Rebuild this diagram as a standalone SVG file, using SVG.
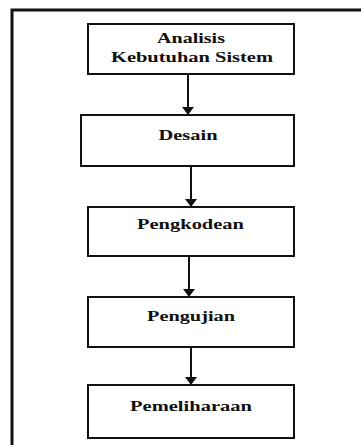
<svg xmlns="http://www.w3.org/2000/svg" width="361" height="445" viewBox="0 0 361 445">
<style>
.box{fill:#fff;stroke:#111;stroke-width:2}
.lbl{font-family:"Liberation Serif","Times New Roman",serif;font-weight:bold;font-size:15.5px;fill:#111;text-anchor:middle}
.con{stroke:#111;stroke-width:2;fill:none}
.frame{stroke:#111;stroke-width:3;fill:none}
</style>
<defs>
<marker id="ah" viewBox="0 0 8 12" refX="8" refY="6" markerWidth="8" markerHeight="12" markerUnits="userSpaceOnUse" orient="auto">
<path d="M0,0 L8,6 L0,12 Z" fill="#111"/>
</marker>
</defs>
<rect width="361" height="445" fill="#fff"/>
<path class="frame" d="M12,445 V10 H361"/>
<g id="connectors">
<line class="con" x1="188" y1="75" x2="188" y2="115" marker-end="url(#ah)"/>
<line class="con" x1="191" y1="167" x2="191" y2="207" marker-end="url(#ah)"/>
<line class="con" x1="189" y1="257" x2="189" y2="297" marker-end="url(#ah)"/>
<line class="con" x1="191" y1="348" x2="191" y2="385" marker-end="url(#ah)"/>
</g>
<g id="n1">
<rect class="box" x="88" y="24" width="206" height="50"/>
<text class="lbl" x="191" y="43" textLength="68" lengthAdjust="spacingAndGlyphs">Analisis</text>
<text class="lbl" x="192" y="62" textLength="162" lengthAdjust="spacingAndGlyphs">Kebutuhan Sistem</text>
</g>
<g id="n2">
<rect class="box" x="81" y="115" width="213" height="51"/>
<text class="lbl" x="188" y="140" textLength="59" lengthAdjust="spacingAndGlyphs">Desain</text>
</g>
<g id="n3">
<rect class="box" x="88" y="207" width="206" height="49"/>
<text class="lbl" x="190.5" y="229" textLength="107" lengthAdjust="spacingAndGlyphs">Pengkodean</text>
</g>
<g id="n4">
<rect class="box" x="88" y="297" width="206" height="50"/>
<text class="lbl" x="191" y="321" textLength="88" lengthAdjust="spacingAndGlyphs">Pengujian</text>
</g>
<g id="n5">
<rect class="box" x="88" y="385" width="206" height="53"/>
<text class="lbl" x="191" y="411" textLength="122" lengthAdjust="spacingAndGlyphs">Pemeliharaan</text>
</g>
</svg>
